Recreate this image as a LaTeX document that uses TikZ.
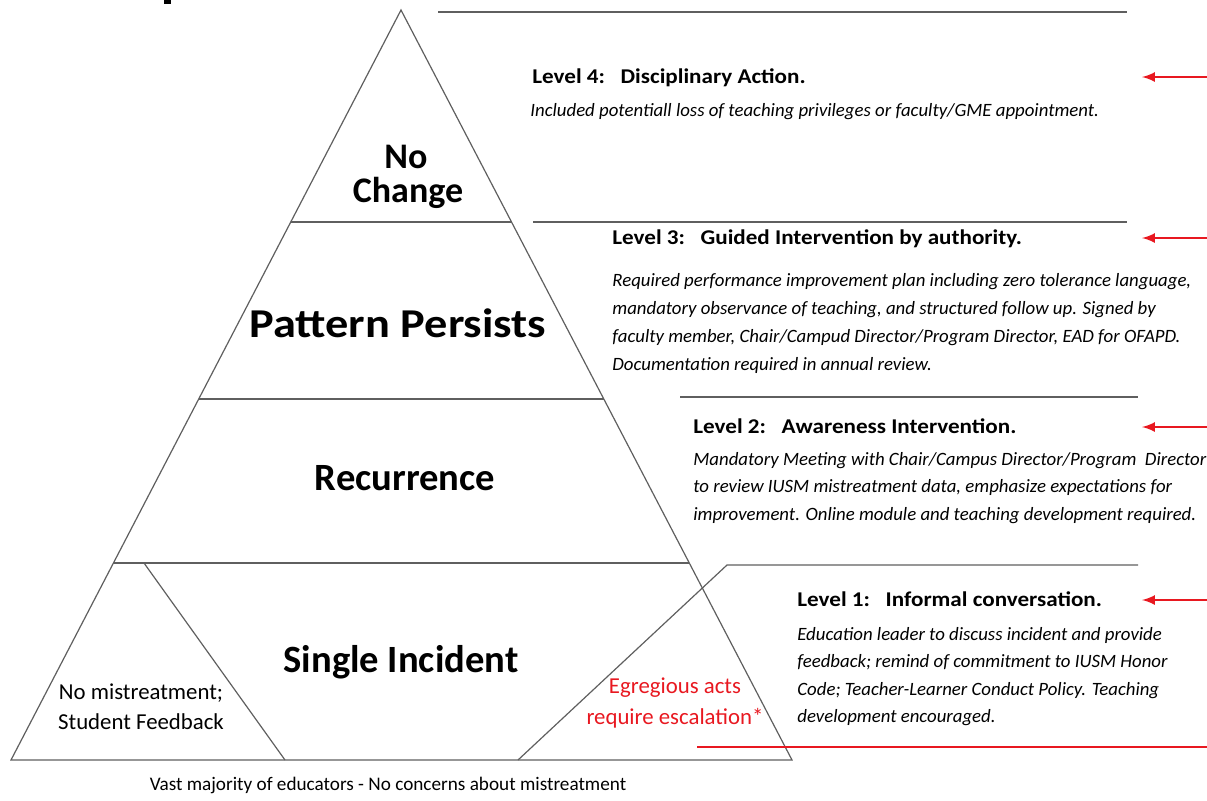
\documentclass[tikz,border=0pt]{standalone}
\usepackage{fontspec}
\setmainfont{Carlito}
\newfontfamily\headfont[FakeStretch=1.1]{Carlito}
\newfontfamily\widefont[FakeStretch=1.13]{Carlito}
\usetikzlibrary{calc}

\definecolor{pyrline}{RGB}{95,95,95}
\definecolor{warnred}{RGB}{232,24,32}

\tikzset{
  pyr/.style={draw=pyrline, line width=0.6pt},
  tier/.style={anchor=base, inner sep=0, font=\fontsize{19.3}{22}\selectfont\bfseries},
  smalltxt/.style={anchor=base, inner sep=0, font=\fontsize{11.4}{13}\selectfont},
  levelhead/.style={anchor=base west, inner sep=0, font=\headfont\fontsize{10.5}{12}\selectfont\bfseries},
  levelbody/.style={anchor=base west, inner sep=0, font=\fontsize{9.4}{11}\selectfont\itshape},
  redarrow/.style={warnred, line width=1.2pt, -latex},
}

\begin{document}
\begin{tikzpicture}[x=0.5pt, y=-0.5pt]
  \useasboundingbox (0,0) rectangle (1207,800);
  % bit of the heading above
  \fill (164,0) rectangle (171,4);

  % pyramid and its tiers
  \coordinate (apex) at (401,10);
  \coordinate (bl) at (11,760);
  \coordinate (br) at (792,760);
  \draw[pyr] (apex) -- (bl) -- (br) -- cycle;
  \foreach \t/\nm in {0.2827/a, 0.5187/b, 0.7373/c}
    \draw[pyr] ($(apex)!\t!(bl)$) coordinate (l\nm) -- ($(apex)!\t!(br)$) coordinate (r\nm);
  \draw[pyr] (144,563) -- (285,760);
  \draw[pyr] (518,760) -- (727,565) -- (1138,565);

  % rules between the levels
  \draw[pyr] (438,12) -- (1127,12);
  \draw[pyr] (533,222) -- (1127,222);
  \draw[pyr] (680,397) -- (1138,397);
  \draw[warnred, line width=0.7pt] (697,747) -- (1207,747);

  % tier names
  \node[tier, font=\fontsize{18}{22}\selectfont\bfseries] (nochg1) at (406,168) {No};
  \node[tier, font=\fontsize{18}{22}\selectfont\bfseries] (nochg2) at (408,202) {Change};
  \node[tier, font=\widefont\fontsize{20.5}{24}\selectfont\bfseries] (persist) at (398,337) {Pattern Persists};
  \node[tier] (recur) at (405,490) {Recurrence};
  \node[tier] (single) at (401,672) {Single Incident};
  \node[smalltxt] (nomis1) at (141,699) {No mistreatment;};
  \node[smalltxt] (nomis2) at (141,729) {Student Feedback};
  \node[smalltxt, text=warnred] (egreg1) at (675,693) {Egregious acts};
  \node[smalltxt, text=warnred] (egreg2) at (675,724) {require escalation*};
  \node[smalltxt, font=\fontsize{9.6}{11}\selectfont] (vast) at (388,790)
    {Vast majority of educators - No concerns about mistreatment};

  % level 4
  \node[levelhead] (head4) at (532,83) {Level 4:\ \ \ Disciplinary Action.};
  \node[levelbody] (body4) at (530,116)
    {Included potentiall loss of teaching privileges or faculty/GME appointment.};

  % level 3
  \node[levelhead] (head3) at (612,244) {Level 3:\ \ \ Guided Intervention by authority.};
  \foreach \i/\ln in {
    0/{Required performance improvement plan including zero tolerance language,},
    1/{mandatory observance of teaching, and structured follow up. Signed by},
    2/{faculty member, Chair/Campud Director/Program Director, EAD for OFAPD.},
    3/{Documentation required in annual review.}}
    \node[levelbody] (body3-\i) at (612,{286+28*\i}) {\ln};

  % level 2
  \node[levelhead] (head2) at (693,433) {Level 2:\ \ \ Awareness Intervention.};
  \foreach \i/\ln in {
    0/{Mandatory Meeting with Chair/Campus Director/Program\ \ Director},
    1/{to review IUSM mistreatment data, emphasize expectations for},
    2/{improvement. Online module and teaching development required.}}
    \node[levelbody] (body2-\i) at (693,{465+27.5*\i}) {\ln};

  % level 1
  \node[levelhead] (head1) at (797,606) {Level 1:\ \ \ Informal conversation.};
  \foreach \i/\ln in {
    0/{Education leader to discuss incident and provide},
    1/{feedback; remind of commitment to IUSM Honor},
    2/{Code; Teacher-Learner Conduct Policy. Teaching},
    3/{development encouraged.}}
    \node[levelbody] (body1-\i) at (797,{640+27.5*\i}) {\ln};

  % red pointers
  \foreach \lv/\yy in {4/77, 3/238, 2/427, 1/600} {
    \coordinate (tail\lv) at (1207,\yy);
    \coordinate (tip\lv) at (1142,\yy);
    \draw[redarrow] (tail\lv) -- (tip\lv);
  }
\end{tikzpicture}
\end{document}
